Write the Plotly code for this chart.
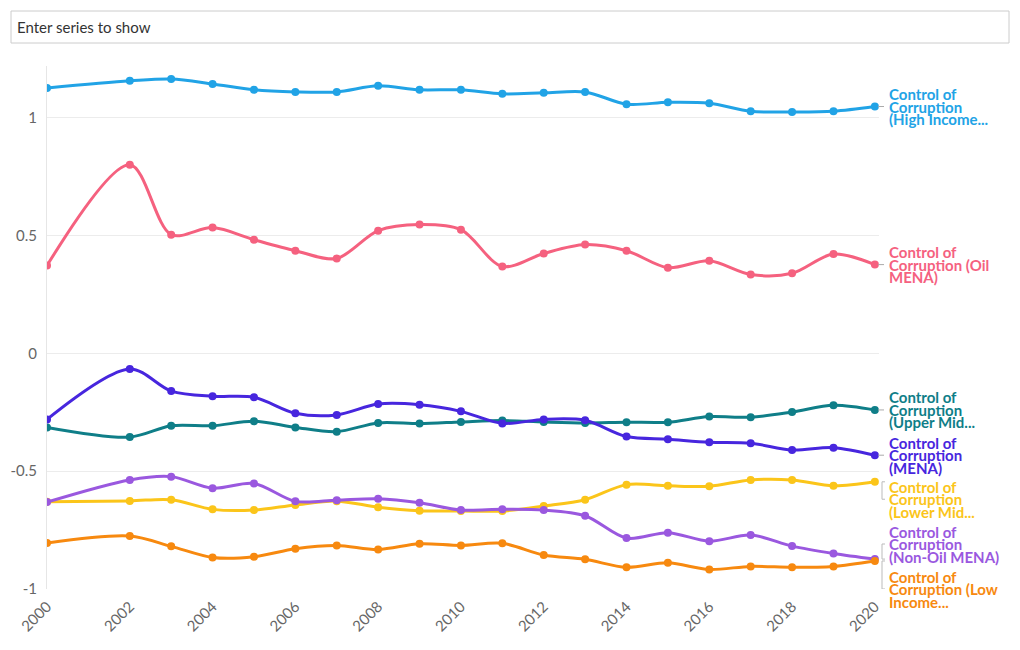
import plotly.graph_objects as go

years = [2000, 2002, 2003, 2004, 2005, 2006, 2007, 2008, 2009, 2010,
         2011, 2012, 2013, 2014, 2015, 2016, 2017, 2018, 2019, 2020]

high_income = [1.127, 1.157, 1.165, 1.144, 1.119, 1.110, 1.110, 1.136, 1.119, 1.119,
               1.102, 1.106, 1.110, 1.058, 1.066, 1.062, 1.028, 1.025, 1.028, 1.048]
oil_mena = [0.373, 0.801, 0.504, 0.534, 0.483, 0.436, 0.403, 0.521, 0.547, 0.525,
            0.369, 0.424, 0.462, 0.436, 0.364, 0.393, 0.335, 0.340, 0.422, 0.377]
upper_mid = [-0.314, -0.355, -0.307, -0.307, -0.288, -0.314, -0.332, -0.295, -0.298, -0.291,
             -0.285, -0.291, -0.295, -0.292, -0.292, -0.268, -0.271, -0.249, -0.220, -0.240]
mena = [-0.280, -0.066, -0.160, -0.182, -0.186, -0.254, -0.261, -0.215, -0.218, -0.246,
        -0.297, -0.280, -0.284, -0.353, -0.364, -0.377, -0.381, -0.410, -0.400, -0.432]
lower_mid = [-0.630, -0.626, -0.621, -0.662, -0.665, -0.643, -0.627, -0.653, -0.668, -0.669,
             -0.669, -0.648, -0.621, -0.557, -0.562, -0.564, -0.537, -0.537, -0.562, -0.545]
non_oil_mena = [-0.631, -0.537, -0.523, -0.572, -0.552, -0.628, -0.623, -0.617, -0.634, -0.665,
                -0.662, -0.665, -0.689, -0.784, -0.761, -0.797, -0.771, -0.818, -0.849, -0.873]
low_income = [-0.805, -0.775, -0.819, -0.866, -0.863, -0.829, -0.815, -0.832, -0.808, -0.815,
              -0.806, -0.856, -0.874, -0.908, -0.889, -0.917, -0.904, -0.908, -0.904, -0.881]

series_names = [
    "Control of Corruption (High Income Countries)",
    "Control of Corruption (Oil MENA)",
    "Control of Corruption (Upper Middle Income Countries)",
    "Control of Corruption (MENA)",
    "Control of Corruption (Lower Middle Income Countries)",
    "Control of Corruption (Non-Oil MENA)",
    "Control of Corruption (Low Income Countries)",
]
series_values = [high_income, oil_mena, upper_mid, mena, lower_mid, non_oil_mena, low_income]
label_lines = [
    ["Control of", "Corruption", "(High Income..."],
    ["Control of", "Corruption (Oil", "MENA)"],
    ["Control of", "Corruption", "(Upper Mid..."],
    ["Control of", "Corruption", "(MENA)"],
    ["Control of", "Corruption", "(Lower Mid..."],
    ["Control of", "Corruption", "(Non-Oil MENA)"],
    ["Control of", "Corruption (Low", "Income..."],
]
colors = ["#21a3e6", "#f5617f", "#0f7e88", "#4726de", "#fbc51a", "#9a58df", "#f7890f"]
# label centre (data units) after collision avoidance
label_centers = [1.048, 0.377, -0.240, -0.432, -0.619, -0.809, -1.0]

x_ticks = [2000, 2002, 2004, 2006, 2008, 2010, 2012, 2014, 2016, 2018, 2020]
y_ticks = [-1, -0.5, 0, 0.5, 1]

FONT = "Lato, 'Open Sans', sans-serif"

fig = go.Figure()
for name, vals, col in zip(series_names, series_values, colors):
    fig.add_trace(go.Scatter(
        x=years, y=vals, name=name, mode="lines+markers",
        line=dict(color=col, width=3, shape="spline", smoothing=0.9),
        marker=dict(color=col, size=8),
        showlegend=False,
    ))

# plot area geometry (pixels) used to convert label positions
W, H = 1020, 650
ML, MR, MT, MB = 47, 141, 66, 61
plot_w = W - ML - MR
y_range = [-1, 1.22]
plot_h = H - MT - MB
px_per_unit = plot_h / (y_range[1] - y_range[0])

annotations = []
shapes = []
label_x = (887 - ML) / plot_w
line_gap_px = 12.5
for lines, vals, col, yc in zip(label_lines, series_values, colors, label_centers):
    for i, t in enumerate(lines):
        off = (i - 1) * line_gap_px
        annotations.append(dict(
            x=label_x, xref="paper", y=yc, yref="y", yshift=-off,
            text="<b>" + t + "</b>", showarrow=False, xanchor="left", yanchor="middle",
            font=dict(family=FONT, size=15, color=col),
        ))
    last = vals[-1]
    if abs(last - yc) * px_per_unit < 3:
        shapes.append(dict(type="line", xref="paper", yref="y",
                           x0=(878 - ML) / plot_w, x1=(884 - ML) / plot_w, y0=last, y1=last,
                           line=dict(color="#aaaaaa", width=1)))
    else:
        bx = (882 - ML) / plot_w
        bt = (885 - ML) / plot_w
        shapes.append(dict(type="path", xref="paper", yref="y",
                           path=f"M {bt},{last} L {bx},{last} L {bx},{yc} L {bt},{yc}",
                           line=dict(color="#bbbbbb", width=1)))

# search box
shapes.append(dict(type="rect", xref="paper", yref="paper",
                   x0=(11 - ML) / plot_w, x1=(1009 - ML) / plot_w,
                   y0=1 + (MT - 43) / plot_h, y1=1 + (MT - 11) / plot_h,
                   line=dict(color="#cccccc", width=1), fillcolor="white"))
annotations.append(dict(x=(15 - ML) / plot_w, xref="paper", y=1 + (MT - 27) / plot_h, yref="paper",
                        text="Enter series to show", showarrow=False, xanchor="left", yanchor="middle",
                        font=dict(family=FONT, size=15, color="#333333")))

fig.update_layout(
    width=W, height=H,
    margin=dict(l=ML, r=MR, t=MT, b=MB, autoexpand=False),
    paper_bgcolor="white", plot_bgcolor="white",
    font=dict(family=FONT, color="#555555"),
    annotations=annotations, shapes=shapes,
    xaxis=dict(range=[2000, 2020.1], tickvals=x_ticks, ticktext=[str(v) for v in x_ticks],
               tickangle=-45, showgrid=False, zeroline=False, showline=False, automargin=False,
               tickfont=dict(size=15, color="#666666"), ticks="", ticklen=0,
               ticklabelstandoff=5),
    yaxis=dict(range=y_range, tickvals=y_ticks, ticktext=["-1", "-0.5", "0", "0.5", "1"],
               showgrid=True, gridcolor="#ececec", gridwidth=1, zeroline=False,
               showline=True, linecolor="#e6e6e6", linewidth=1, automargin=False,
               ticks="", ticklabelstandoff=6, tickfont=dict(size=15, color="#666666")),
)

fig.write_html("out.html", config={"displayModeBar": False},
               post_script="document.body.style.margin='0';document.body.style.padding='0';")
